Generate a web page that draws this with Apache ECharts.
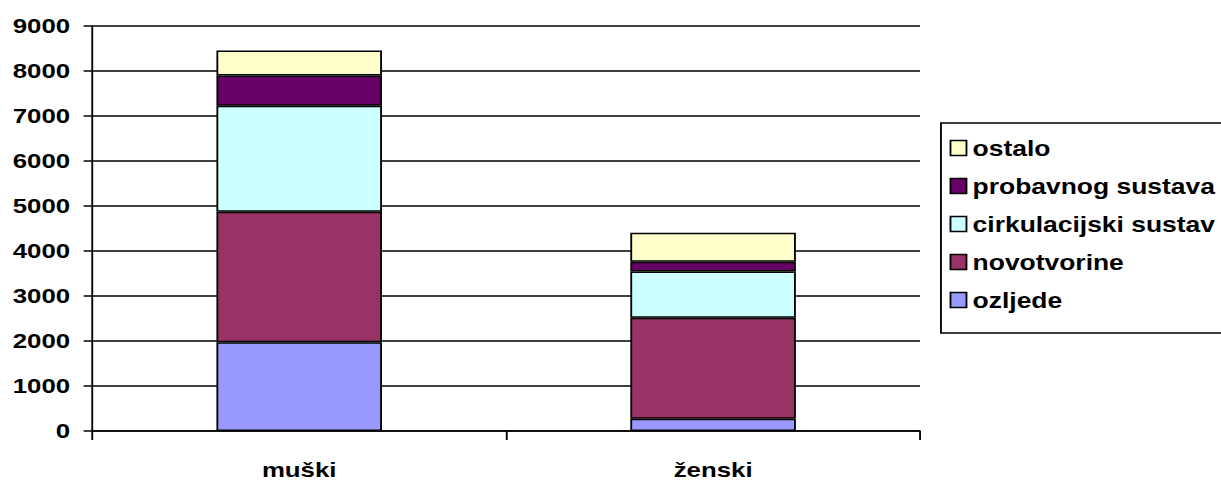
<!DOCTYPE html>
<html>
<head>
<meta charset="utf-8">
<script src="https://cdn.jsdelivr.net/npm/echarts@6/dist/echarts.min.js"></script>
<style>
    html, body { margin: 0; padding: 0; background: #fff; overflow: hidden; }
    /* the reference is stretched sideways, so the chart is drawn narrower and widened */
    #main { width: 993px; height: 483px; transform: scaleX(1.23); transform-origin: 0 0; }
</style>
</head>
<body>
<div id="main"></div>
<script>
var categories = ['muški', 'ženski'];
var ozljede = [1970, 270];
var novotvorine = [2900, 2245];
var cirkulacijski = [2360, 1030];
var probavnog = [670, 215];
var ostalo = [555, 645];
var yTicks = { min: 0, max: 9000, interval: 1000 };

var font = "'Liberation Sans', Arial, sans-serif";

function makeSeries(name, data, color) {
    return {
        name: name,
        type: 'bar',
        stack: 'total',
        barWidth: '40%',
        data: data,
        itemStyle: { color: color, borderColor: '#000', borderWidth: 1.5 }
    };
}

var dom = document.getElementById('main');
var myChart = echarts.init(dom, null, { renderer: 'svg' });

var option = {
    animation: false,
    backgroundColor: '#fff',
    textStyle: { fontFamily: font },
    grid: { left: 75, right: 245, top: 26, bottom: 52 },
    legend: {
        orient: 'vertical',
        left: 765,
        top: 123,
        padding: [14, 12, 22, 7],
        itemGap: 16,
        itemWidth: 13,
        itemHeight: 15,
        icon: 'rect',
        borderColor: '#000',
        borderWidth: 1.5,
        itemStyle: { borderColor: '#000', borderWidth: 1.5 },
        textStyle: { fontFamily: font, fontWeight: 'bold', fontSize: 21.5, lineHeight: 22, color: '#000' },
        data: ['ostalo', 'probavnog sustava', 'cirkulacijski sustav', 'novotvorine', 'ozljede']
    },
    xAxis: {
        type: 'category',
        data: categories,
        axisLine: { lineStyle: { color: '#000', width: 1.5 } },
        axisTick: { show: true, length: 9, lineStyle: { color: '#000', width: 1.5 } },
        axisLabel: { margin: 28, color: '#000', fontFamily: font, fontWeight: 'bold', fontSize: 21 }
    },
    yAxis: {
        type: 'value',
        min: yTicks.min,
        max: yTicks.max,
        interval: yTicks.interval,
        axisLine: { show: true, lineStyle: { color: '#000', width: 1.5 } },
        axisTick: { show: true, length: 7, lineStyle: { color: '#000', width: 1.5 } },
        axisLabel: {
            margin: 18, color: '#000', fontFamily: font, fontWeight: 'bold', fontSize: 21,
            formatter: function (v) { return String(v); }
        },
        splitLine: { show: true, lineStyle: { color: '#000', width: 1.5 } }
    },
    series: [
        makeSeries('ozljede', ozljede, '#9999FF'),
        makeSeries('novotvorine', novotvorine, '#993366'),
        makeSeries('cirkulacijski sustav', cirkulacijski, '#CCFFFF'),
        makeSeries('probavnog sustava', probavnog, '#660066'),
        makeSeries('ostalo', ostalo, '#FFFFCC')
    ]
};
myChart.setOption(option);
window.addEventListener('resize', myChart.resize);
</script>
</body>
</html>
